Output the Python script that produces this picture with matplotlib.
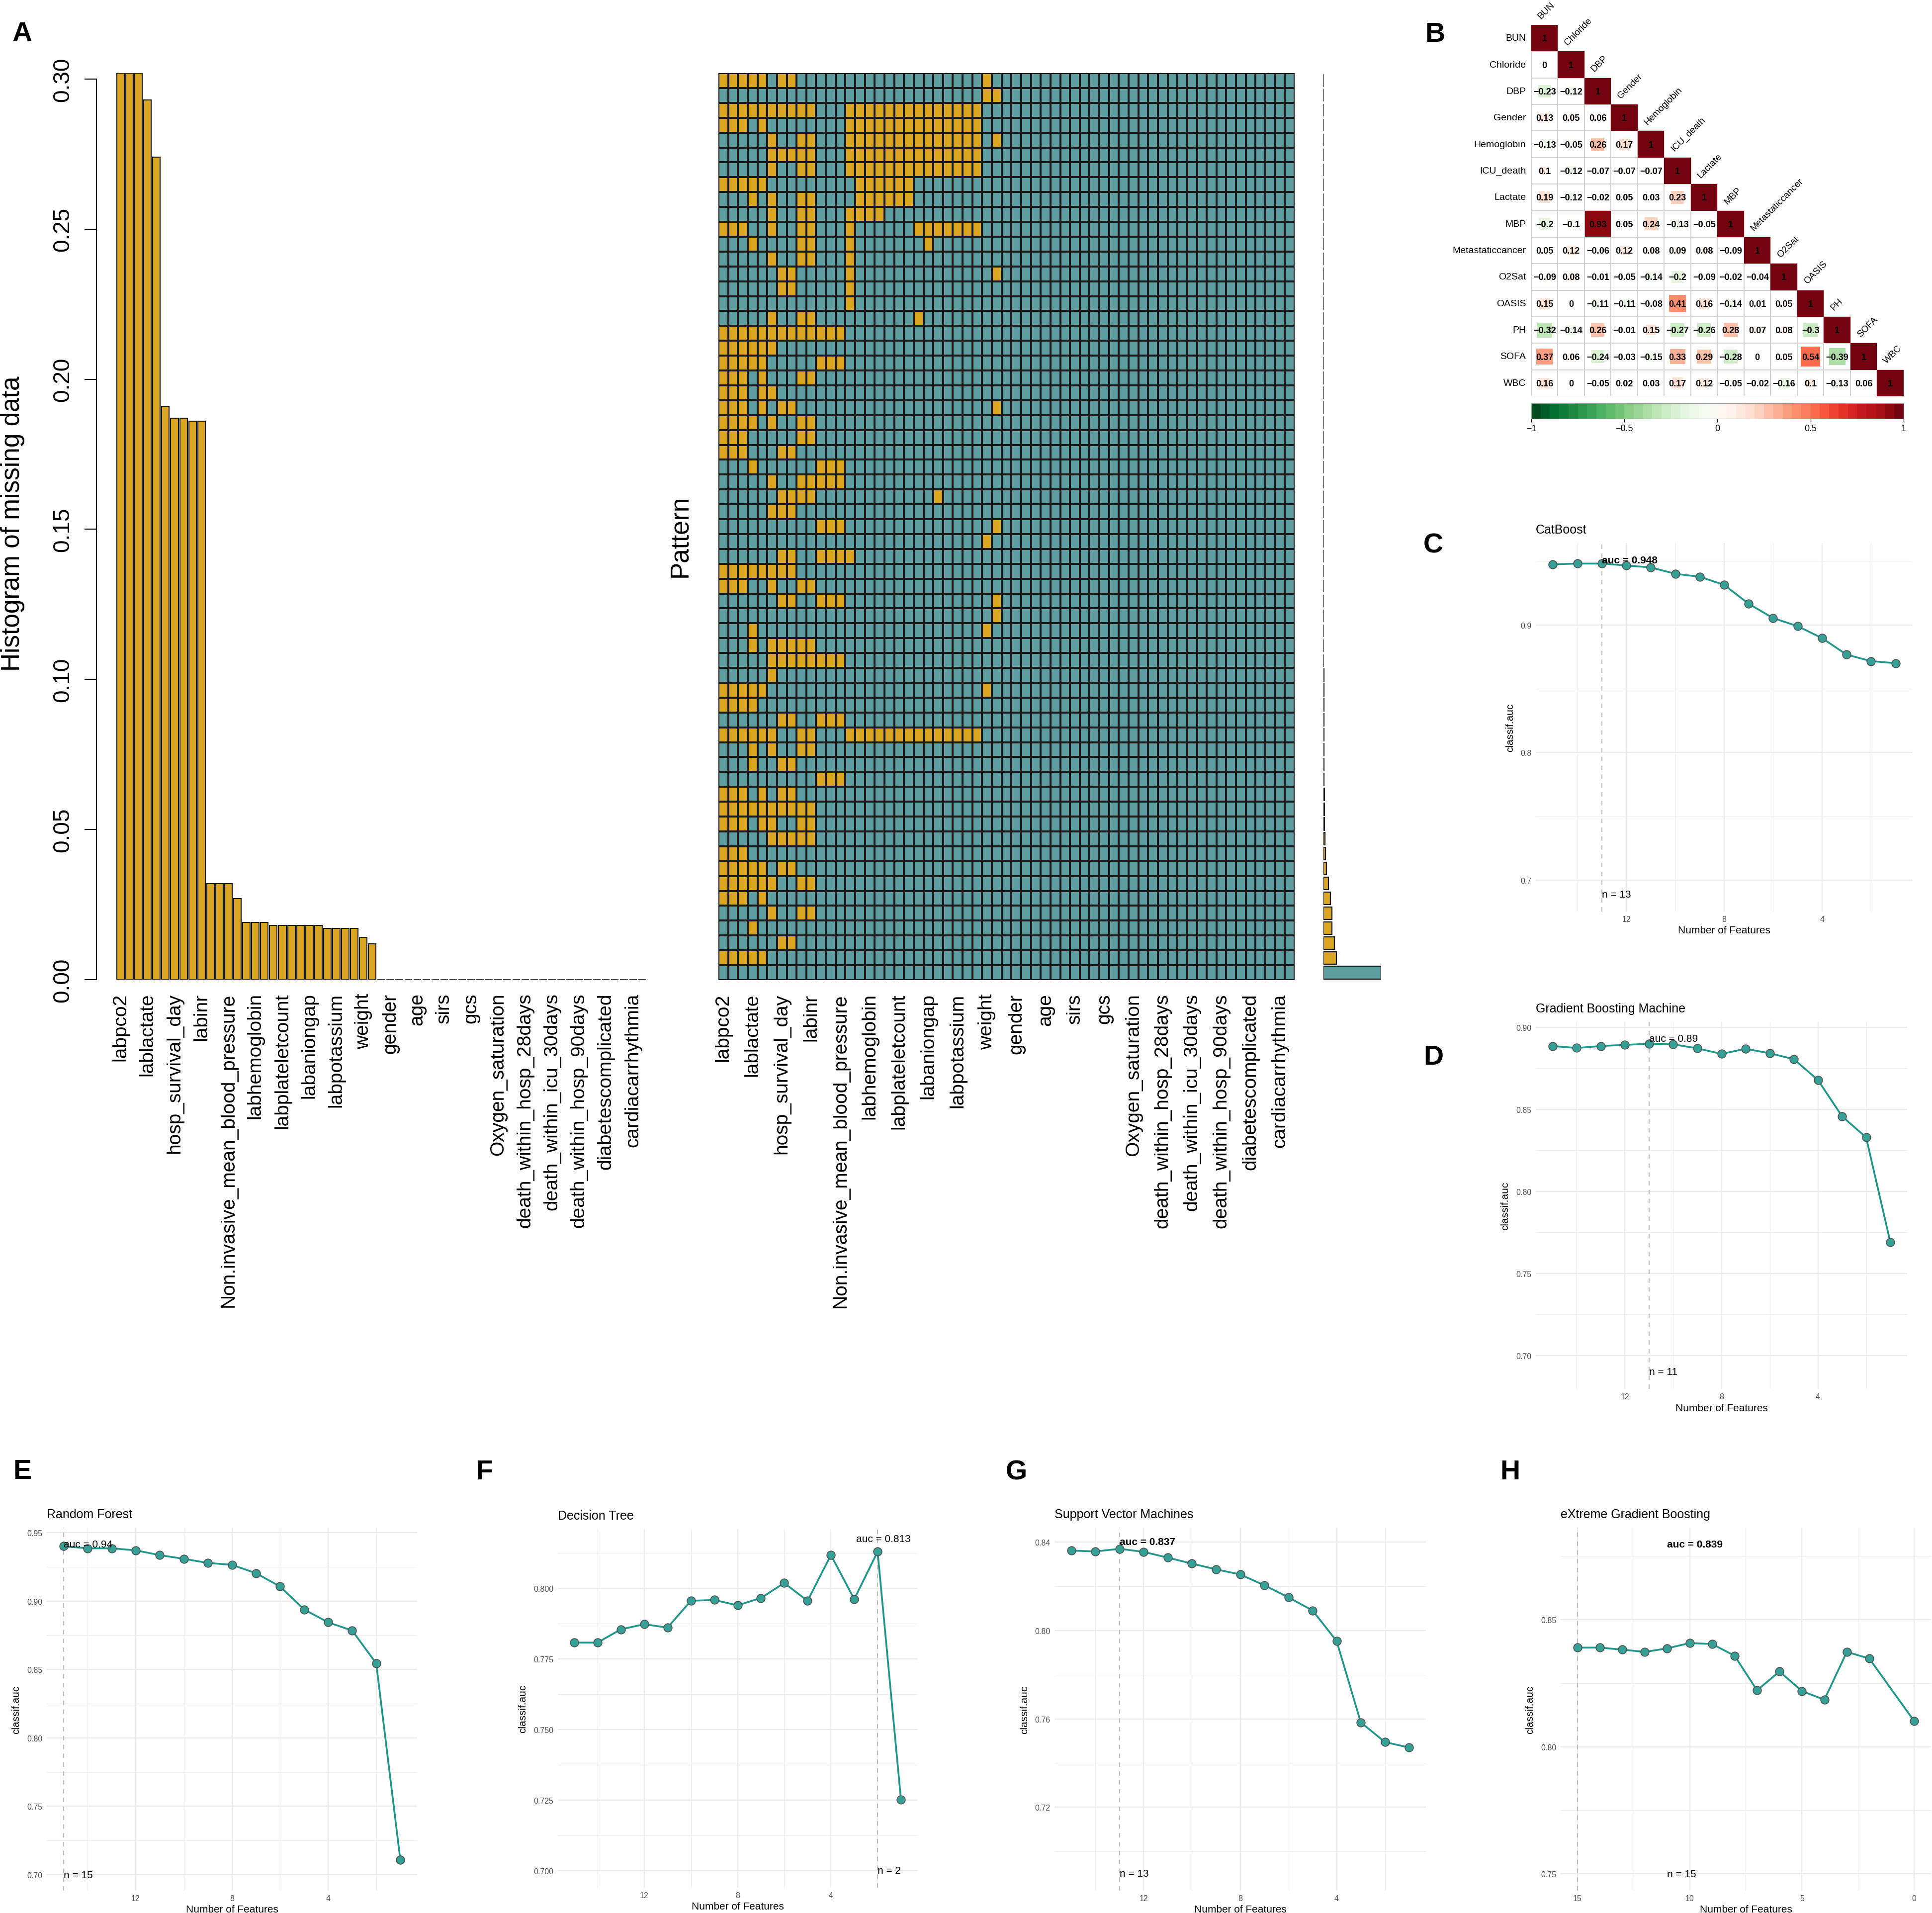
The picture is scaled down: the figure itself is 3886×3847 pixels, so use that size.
import numpy as np
import matplotlib
matplotlib.use("Agg")
import matplotlib.pyplot as plt
from matplotlib.colors import ListedColormap, LinearSegmentedColormap
from matplotlib.patches import Rectangle

plt.rcParams['font.family'] = ['Liberation Sans', 'DejaVu Sans']

# ---------------------------------------------------------------- data
# Panel A: proportion of missing values per variable (59 variables, sorted)
missing_prop = [0.302, 0.302, 0.302, 0.293, 0.274, 0.191, 0.187, 0.187, 0.186, 0.186,
                0.032, 0.032, 0.032, 0.027, 0.019, 0.019, 0.019, 0.018, 0.018, 0.018,
                0.018, 0.018, 0.018, 0.017, 0.017, 0.017, 0.017, 0.014, 0.012, 0.0,
                0.0, 0.0, 0.0, 0.0, 0.0, 0.0, 0.0, 0.0, 0.0, 0.0,
                0.0, 0.0, 0.0, 0.0, 0.0, 0.0, 0.0, 0.0, 0.0, 0.0,
                0.0, 0.0, 0.0, 0.0, 0.0, 0.0, 0.0, 0.0, 0.0]
# labels shown (every third variable)
shown_labels = ["labpco2", "lablactate", "hosp_survival_day", "labinr",
                "Non.invasive_mean_blood_pressure", "labhemoglobin", "labplateletcount",
                "labaniongap", "labpotassium", "weight", "gender", "age", "sirs", "gcs",
                "Oxygen_saturation", "death_within_hosp_28days", "death_within_icu_30days",
                "death_within_hosp_90days", "diabetescomplicated", "cardiacarrhythmia"]

# missing-data patterns: columns missing in each pattern row (top to bottom)
pattern_rows = ["0-4,6,7,27", "27,28", "0-9,13-26", "0-2,4,13-26", "5,8,9,13-26,28",
                "5-9,13-26", "5,8,9,13-26", "0-4,14-19", "3,5,8,9,14-19", "5,8,9,13-16",
                "0-2,5,8,9,13,20-26", "3,8,9,13,21", "5,8,9,13", "6,7,13,28", "6,7,13",
                "13", "5,8,9,20", "0-12", "0-5", "0-4,10-12",
                "0-2,4,8,9", "0-2,4,5", "0-2,4,6,7,28", "0-3,5,8,9", "0-2,8,9",
                "0-2,6,7", "3,10-12", "5,8-12", "6-9,22", "5-7",
                "10-12,28", "27", "6,7,10-13", "0-7", "0-2,5,8,9",
                "6,7,10-12,28", "28", "3,27", "3,5-9", "5-12",
                "5", "0-4,27", "0-3", "6,7,10-12", "0-5,8,9,13-26",
                "3,5,8,9", "3,6,7", "10-12", "0-2,4,6,7", "0-9",
                "0-2,4,5,8,9", "5-9", "0-2", "0-4,6,7", "0-5,8,9",
                "0-2,4", "5,8,9", "3", "6,7", "0-4", ""]
# relative frequency of each pattern
pattern_freq = [0.004, 0.004, 0.004, 0.004, 0.004, 0.004, 0.004, 0.004, 0.004, 0.004,
                0.004, 0.004, 0.004, 0.004, 0.004, 0.004, 0.004, 0.004, 0.004, 0.004,
                0.004, 0.004, 0.004, 0.004, 0.004, 0.004, 0.004, 0.004, 0.004, 0.004,
                0.004, 0.004, 0.004, 0.004, 0.004, 0.004, 0.004, 0.004, 0.004, 0.004,
                0.005, 0.006, 0.007, 0.008, 0.009, 0.010, 0.011, 0.012, 0.014, 0.016,
                0.020, 0.026, 0.032, 0.056, 0.085, 0.120, 0.144, 0.150, 0.188, 0.226, 1.0]

# Panel B: correlation matrix (lower triangle)
corr_vars = ["BUN", "Chloride", "DBP", "Gender", "Hemoglobin", "ICU_death", "Lactate",
             "MBP", "Metastaticcancer", "O2Sat", "OASIS", "PH", "SOFA", "WBC"]
corr_lower = [
    [],
    [0],
    [-0.23, -0.12],
    [0.13, 0.05, 0.06],
    [-0.13, -0.05, 0.26, 0.17],
    [0.1, -0.12, -0.07, -0.07, -0.07],
    [0.19, -0.12, -0.02, 0.05, 0.03, 0.23],
    [-0.2, -0.1, 0.93, 0.05, 0.24, -0.13, -0.05],
    [0.05, 0.12, -0.06, 0.12, 0.08, 0.09, 0.08, -0.09],
    [-0.09, 0.08, -0.01, -0.05, -0.14, -0.2, -0.09, -0.02, -0.04],
    [0.15, 0, -0.11, -0.11, -0.08, 0.41, 0.16, -0.14, 0.01, 0.05],
    [-0.32, -0.14, 0.26, -0.01, 0.15, -0.27, -0.26, 0.28, 0.07, 0.08, -0.3],
    [0.37, 0.06, -0.24, -0.03, -0.15, 0.33, 0.29, -0.28, 0, 0.05, 0.54, -0.39],
    [0.16, 0, -0.05, 0.02, 0.03, 0.17, 0.12, -0.05, -0.02, -0.16, 0.1, -0.13, 0.06],
]

# Panels C-H: AUC vs number of features
n_feat = [15, 14, 13, 12, 11, 10, 9, 8, 7, 6, 5, 4, 3, 2, 1]
n_feat_xgb = [15, 14, 13, 12, 11, 10, 9, 8, 7, 6, 5, 4, 3, 2, 0]
auc_catboost = [0.9474, 0.948, 0.948, 0.9465, 0.945, 0.940, 0.9377, 0.9313, 0.9165,
                0.9053, 0.899, 0.8896, 0.8767, 0.8716, 0.870]
auc_gbm = [0.8885, 0.8873, 0.8885, 0.8892, 0.8899, 0.8895, 0.8871, 0.8837, 0.8868,
           0.8841, 0.8805, 0.8678, 0.8457, 0.8328, 0.7691]
auc_rf = [0.940, 0.9385, 0.9385, 0.937, 0.9335, 0.9308, 0.9278, 0.9264, 0.9203,
          0.9106, 0.8938, 0.8844, 0.8784, 0.8544, 0.711]
auc_dt = [0.7808, 0.7808, 0.7855, 0.7873, 0.7861, 0.7956, 0.7959, 0.794, 0.7966,
          0.8019, 0.7956, 0.8118, 0.7962, 0.813, 0.7252]
auc_svm = [0.8362, 0.8358, 0.837, 0.8356, 0.833, 0.8303, 0.8277, 0.8254, 0.8205,
           0.815, 0.8091, 0.7952, 0.7584, 0.7495, 0.747]
auc_xgb = [0.839, 0.839, 0.8382, 0.8373, 0.8387, 0.8408, 0.8404, 0.8358, 0.8222,
           0.8296, 0.8219, 0.8185, 0.8373, 0.8347, 0.8101]

# ---------------------------------------------------------------- figure
W, H = 3887, 3848
fig = plt.figure(figsize=(W / 100, H / 100), dpi=100)
fig.patch.set_facecolor('white')

GOLD = '#DAA520'
TEAL = '#5F9EA0'


def add_ax(l, t, r, b):
    return fig.add_axes([l / W, 1 - b / H, (r - l) / W, (b - t) / H])


def ftext(x, y, s, **kw):
    fig.text(x / W, 1 - y / H, s, **kw)


def parse_cols(s):
    out = []
    if not s:
        return out
    for part in s.split(','):
        if '-' in part:
            a, b = part.split('-')
            out.extend(range(int(a), int(b) + 1))
        else:
            out.append(int(part))
    return out


nvar = len(missing_prop)
label_pos = np.arange(0, nvar, 3)

# ---------------- Panel A: histogram of missing data
axh = add_ax(231.7, 147.8, 1302, 1971)
axh.bar(np.arange(nvar), missing_prop, width=0.833, color=GOLD, edgecolor='#1a1a1a',
        linewidth=1.5)
axh.set_xlim(-0.6, nvar - 0.4)
axh.set_ylim(0, 0.302)
for sp in ['top', 'right', 'bottom']:
    axh.spines[sp].set_visible(False)
axh.spines['left'].set_position(('outward', 27.4))
axh.spines['left'].set_bounds(0, 0.30)
axh.spines['left'].set_linewidth(1.5)
yt = [0.0, 0.05, 0.10, 0.15, 0.20, 0.25, 0.30]
axh.set_yticks(yt)
axh.set_yticklabels([f"{v:.2f}" for v in yt], rotation=90, va='center', fontsize=33)
axh.tick_params(axis='y', length=17, width=1.5, pad=16)
axh.set_xticks(label_pos)
axh.set_xticklabels(shown_labels, rotation=90, fontsize=28, va='top', ha='center')
axh.tick_params(axis='x', length=0, pad=19)
ftext(26, 1053, "Histogram of missing data", rotation=90, ha='center', va='center',
      fontsize=37)

# ---------------- Panel A: pattern grid
nrow = len(pattern_rows)
M = np.zeros((nrow, nvar))
for i, s in enumerate(pattern_rows):
    for c in parse_cols(s):
        M[i, c] = 1
axp = add_ax(1445, 148, 2604, 1972)
axp.pcolormesh(np.arange(nvar + 1), np.arange(nrow + 1), M,
               cmap=ListedColormap([TEAL, GOLD]), vmin=0, vmax=1,
               edgecolors='#1a1a1a', linewidth=1.6)
axp.set_xlim(0, nvar)
axp.set_ylim(nrow, 0)
for sp in axp.spines.values():
    sp.set_visible(False)
axp.set_yticks([])
axp.set_xticks(label_pos + 0.5)
axp.set_xticklabels(shown_labels, rotation=90, fontsize=28, va='top', ha='center')
axp.tick_params(axis='x', length=0, pad=19)
ftext(1368, 1078, "Pattern", rotation=90, ha='center', va='center', fontsize=37)

# ---------------- Panel A: pattern frequencies
axf = add_ax(2662, 148, 2778, 1972)
bar_cols = [GOLD] * (nrow - 1) + [TEAL]
axf.barh(np.arange(nrow) + 0.5, pattern_freq, height=0.84, color=bar_cols,
         edgecolor='#1a1a1a', linewidth=1.6)
axf.set_xlim(0, 1.0)
axf.set_ylim(nrow, 0)
axf.axis('off')

# ---------------- Panel B: correlation matrix
corr_colors = ['#00441b', '#006d2c', '#238b45', '#41ab5d', '#74c476', '#a1d99b',
               '#c7e9c0', '#e5f5e0', '#f7fcf5', '#fff5f0', '#fee0d2', '#fcbba1',
               '#fc9272', '#fb6a4a', '#ef3b2c', '#cb181d', '#a50f15', '#67000d']
cmap = LinearSegmentedColormap.from_list('gr', corr_colors)
NB = 40


def corr_col(v):
    k = min(int((v + 1) / 2 * NB), NB - 1)
    return cmap((k + 0.5) / NB)


def fmt_r(v):
    s = f"{v:.2f}".rstrip('0').rstrip('.')
    if s in ('-0', ''):
        s = '0'
    return s.replace('-', '\u2212')


nv = len(corr_vars)
axc = add_ax(3080, 51, 3829, 798)
axc.set_xlim(0, nv)
axc.set_ylim(nv, 0)
axc.axis('off')
for i in range(nv):
    vals = list(corr_lower[i]) + [1.0]
    for j, v in enumerate(vals):
        axc.add_patch(Rectangle((j, i), 1, 1, facecolor='white', edgecolor='#d0d0d0',
                                lw=1.4, zorder=1))
        s = np.sqrt(abs(v))
        if s > 0:
            axc.add_patch(Rectangle((j + 0.5 - s / 2, i + 0.5 - s / 2), s, s,
                                    facecolor=corr_col(v), edgecolor='none', zorder=2))
        axc.text(j + 0.5, i + 0.52, fmt_r(v), ha='center', va='center', fontsize=13,
                 fontweight='bold', color='black', zorder=3)
    axc.text(-0.2, i + 0.5, corr_vars[i], ha='right', va='center', fontsize=14)
    axc.text(i + 0.42, i - 0.18, corr_vars[i], rotation=45, ha='left', va='bottom',
             rotation_mode='anchor', fontsize=13.5)

axcb = add_ax(3080, 812, 3829, 843)
edges = np.linspace(-1, 1, NB + 1)
axcb.pcolormesh(edges, [0, 1], ((edges[:-1] + edges[1:]) / 2)[None, :], cmap=cmap,
                vmin=-1, vmax=1)
axcb.set_xlim(-1, 1)
axcb.set_ylim(0, 1)
axcb.set_yticks([])
axcb.set_xticks([-1, -0.5, 0, 0.5, 1])
axcb.set_xticklabels(['\u22121', '\u22120.5', '0', '0.5', '1'], fontsize=13)
axcb.tick_params(axis='x', length=5, width=1, pad=3)
for sp in axcb.spines.values():
    sp.set_edgecolor('#999999')
    sp.set_linewidth(0.8)

# ---------------- Panels C-H: feature-selection curves
LINE = '#1f968b'
PFILL = '#35a096'


def line_panel(box, title, n, auc, best_n, auc_xy, n_xy, xlim, ylim, xmaj, xmin,
               ymaj, ymin, yfmt, ylab_dx, bold):
    l, t, r, b = box
    ax = add_ax(l, t, r, b)
    ax.set_xlim(*xlim)
    ax.set_ylim(*ylim)
    for v in ymin:
        ax.axhline(v, color='#ececec', lw=0.9, zorder=0)
    for v in ymaj:
        ax.axhline(v, color='#ebebeb', lw=1.7, zorder=0)
    for v in xmin:
        ax.axvline(v, color='#ececec', lw=0.9, zorder=0)
    for v in xmaj:
        ax.axvline(v, color='#ebebeb', lw=1.7, zorder=0)
    ax.axvline(best_n, color='#bdbdbd', lw=1.6, ls=(0, (4, 4)), zorder=1)
    ax.plot(n, auc, color=LINE, lw=2.6, zorder=2)
    ax.plot(n, auc, 'o', ms=12, mfc=PFILL, mec='#505050', mew=1.2, zorder=3)
    best_auc = auc[list(n).index(best_n)]
    auc_txt = "auc = " + f"{best_auc:.3f}".rstrip('0').rstrip('.')
    ax.text(auc_xy[0], auc_xy[1], auc_txt, ha='left', va='center', fontsize=15,
            fontweight='bold' if bold else 'normal', zorder=4)
    ax.text(n_xy[0], n_xy[1], f"n = {best_n}", ha='left', va='center', fontsize=15,
            zorder=4)
    for sp in ax.spines.values():
        sp.set_visible(False)
    ax.set_xticks(xmaj)
    ax.set_xticklabels([str(v) for v in xmaj])
    ax.set_yticks(ymaj)
    ax.set_yticklabels([yfmt.format(v) for v in ymaj])
    ax.tick_params(length=0, labelsize=11.5, labelcolor='#4d4d4d', pad=6)
    ftext(l, t - 27, title, ha='left', va='center', fontsize=18)
    ftext((l + r) / 2, b + 38, "Number of Features", ha='center', va='center', fontsize=15)
    ftext(l - ylab_dx, (t + b) / 2, "classif.auc", rotation=90, ha='center', va='center',
          fontsize=15)
    return ax


rev = (15.7, 0.3)
line_panel((3089, 1093, 3847, 1834), "CatBoost", n_feat, auc_catboost, 13,
           (13, 0.9507), (13, 0.689), rev, (0.6755, 0.9641), [12, 8, 4], [14, 10, 6, 2],
           [0.7, 0.8, 0.9], [0.75, 0.85, 0.95], "{:.1f}", 51, True)
line_panel((3089, 2056, 3836, 2794), "Gradient Boosting Machine", n_feat, auc_gbm, 11,
           (11, 0.8931), (11, 0.690), rev, (0.6796, 0.9032), [12, 8, 4], [14, 10, 6, 2],
           [0.70, 0.75, 0.80, 0.85, 0.90], [0.725, 0.775, 0.825, 0.875], "{:.2f}", 61, False)
line_panel((94, 3073, 839, 3803), "Random Forest", n_feat, auc_rf, 15,
           (15, 0.9416), (15, 0.700), rev, (0.6884, 0.9536), [12, 8, 4], [14, 10, 6, 2],
           [0.70, 0.75, 0.80, 0.85, 0.90, 0.95], [0.725, 0.775, 0.825, 0.875, 0.925],
           "{:.2f}", 61, False)
line_panel((1122, 3076, 1845, 3797), "Decision Tree", n_feat, auc_dt, 2,
           (2.93, 0.8176), (2, 0.700), rev, (0.694, 0.821), [12, 8, 4], [14, 10, 6, 2],
           [0.700, 0.725, 0.750, 0.775, 0.800], [0.7125, 0.7375, 0.7625, 0.7875, 0.8125],
           "{:.3f}", 70, False)
line_panel((2121, 3073, 2868, 3803), "Support Vector Machines", n_feat, auc_svm, 13,
           (13, 0.8401), (13, 0.690), rev, (0.6822, 0.8466), [12, 8, 4], [14, 10, 6, 2],
           [0.72, 0.76, 0.80, 0.84], [0.70, 0.74, 0.78, 0.82], "{:.2f}", 60, True)
line_panel((3139, 3073, 3884, 3803), "eXtreme Gradient Boosting", n_feat_xgb, auc_xgb, 15,
           (11, 0.8797), (11, 0.750), (15.75, -0.75), (0.7434, 0.8862), [15, 10, 5, 0],
           [12.5, 7.5, 2.5], [0.75, 0.80, 0.85], [0.775, 0.825, 0.875], "{:.2f}", 61, True)

# ---------------- panel letters
for letter, (x, y) in {"A": (45, 69), "B": (2886, 70), "C": (2883, 1098),
                       "D": (2883, 2127), "E": (45, 2960), "F": (974, 2961),
                       "G": (2044, 2961), "H": (3037, 2961)}.items():
    ftext(x, y, letter, ha='center', va='center', fontsize=40, fontweight='bold')

fig.savefig("out.png", dpi=100, facecolor='white')
